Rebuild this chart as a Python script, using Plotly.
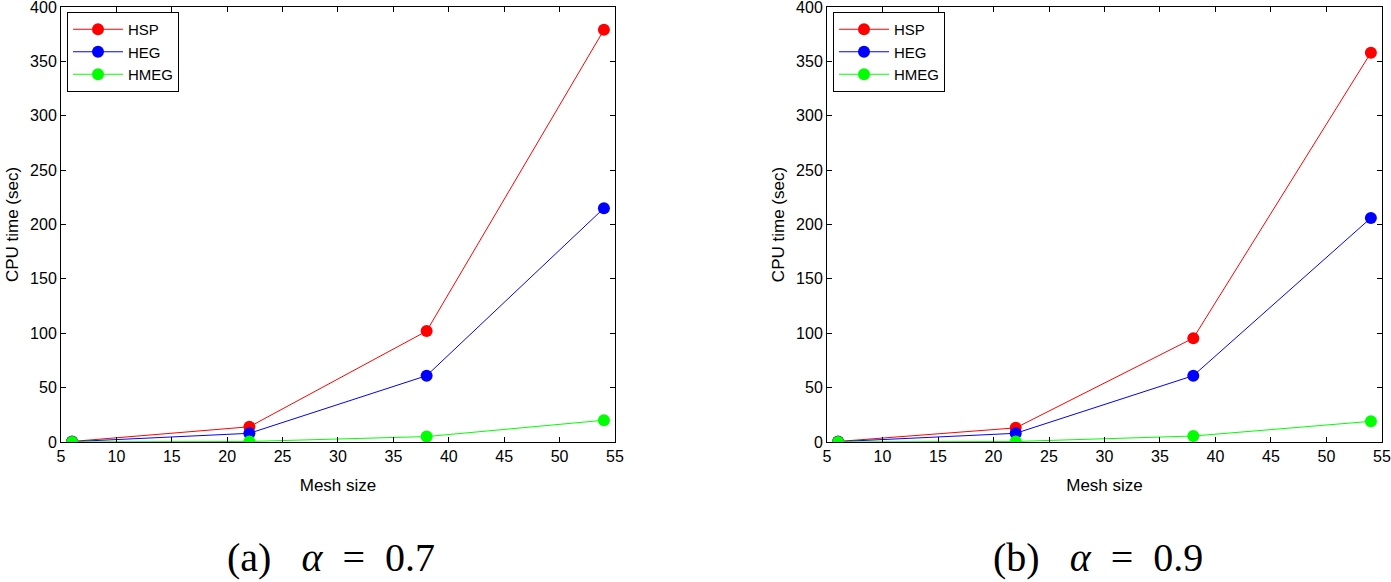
import plotly.graph_objects as go

mesh = [6, 22, 38, 54]

# alpha = 0.7
hsp_a = [0.5, 14, 102, 379]
heg_a = [0.3, 8, 61, 215]
hmeg_a = [0.1, 0.5, 5, 20]

# alpha = 0.9
hsp_b = [0.5, 13, 95.5, 358]
heg_b = [0.3, 8, 61, 206]
hmeg_b = [0.1, 0.5, 5.5, 19]

series_names = ["HSP", "HEG", "HMEG"]
colors = ["#ff0000", "#0000ff", "#00ff00"]
captions = ["(a)&nbsp;&nbsp;&nbsp;<i>α</i>&nbsp;&nbsp;=&nbsp;&nbsp;0.7",
            "(b)&nbsp;&nbsp;&nbsp;<i>α</i>&nbsp;&nbsp;=&nbsp;&nbsp;0.9"]

W, H = 1391, 582
FONT = "Liberation Sans, Arial, sans-serif"

fig = go.Figure()

panels = [
    ([hsp_a, heg_a, hmeg_a], "x", "y", "legend"),
    ([hsp_b, heg_b, hmeg_b], "x2", "y2", "legend2"),
]
for series, xa, ya, leg in panels:
    for name, vals, col in zip(series_names, series, colors):
        fig.add_trace(go.Scatter(
            x=mesh, y=vals, name=name, mode="lines+markers",
            line=dict(color=col, width=1),
            marker=dict(color=col, size=12),
            xaxis=xa, yaxis=ya, legend=leg,
        ))

def px_x(p):
    return p / W

def px_y(p):
    return 1 - p / H

x_doms = [[px_x(61), px_x(615)], [px_x(827), px_x(1382)]]
y_dom = [px_y(442), px_y(7)]

axis_common = dict(
    showline=True, linecolor="black", linewidth=1, mirror="ticks",
    ticks="inside", ticklen=5, tickcolor="black",
    showgrid=False, zeroline=False, automargin=False,
    ticklabeloverflow="allow",
    tickfont=dict(family=FONT, size=16, color="black"),
)

layout = dict(
    width=W, height=H,
    margin=dict(l=0, r=0, t=0, b=0, autoexpand=False),
    paper_bgcolor="white", plot_bgcolor="white",
    font=dict(family=FONT, color="black"),
    showlegend=True,
)

for i, dom in enumerate(x_doms):
    sx = "" if i == 0 else "2"
    layout["xaxis" + sx] = dict(
        axis_common, domain=dom, range=[5, 55.001], dtick=5,
        anchor="y" + sx,
        title=dict(text="Mesh size", font=dict(family=FONT, size=17), standoff=14),
    )
    layout["yaxis" + sx] = dict(
        axis_common, domain=y_dom, range=[0, 400.01], dtick=50,
        anchor="x" + sx,
        title=dict(text="CPU time (sec)", font=dict(family=FONT, size=17), standoff=7),
    )
    layout["legend" + sx] = dict(
        x=dom[0] + 6 / W, y=y_dom[1] - 5 / H,
        xanchor="left", yanchor="top",
        bordercolor="black", borderwidth=1, bgcolor="white",
        font=dict(family=FONT, size=15),
        tracegroupgap=0, itemwidth=50,
    )

fig.update_layout(**layout)

for i, cap in enumerate(captions):
    fig.add_annotation(
        text=cap, xref="paper", yref="paper",
        x=(x_doms[i][0] + x_doms[i][1]) / 2 - 0.005, y=px_y(557),
        xanchor="center", yanchor="middle", showarrow=False,
        font=dict(family="Liberation Serif, serif", size=40, color="black"),
    )

# page body has a default 8px margin; drop it so the figure fills the window
fig.write_html(
    "out.html",
    config={"displayModeBar": False},
    post_script="document.body.style.margin='0';document.body.style.overflow='hidden';",
)
